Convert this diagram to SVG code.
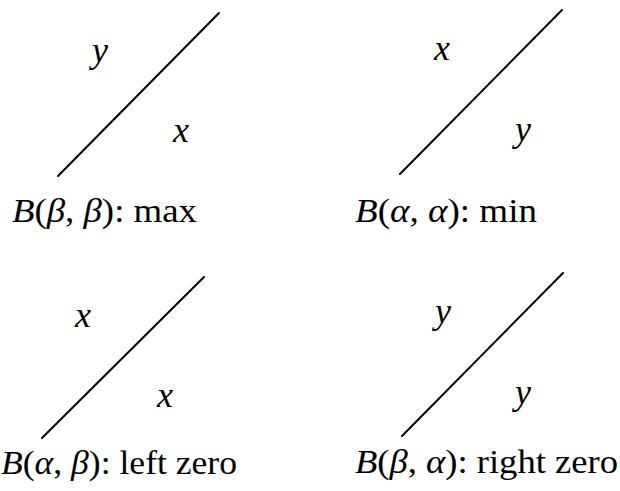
<svg xmlns="http://www.w3.org/2000/svg" width="620" height="491" viewBox="0 0 620 491">
<style>
.ln{stroke:#000;stroke-width:2;fill:none;stroke-linecap:round}
.v{font-family:"Liberation Serif","Times New Roman","DejaVu Serif",serif;font-style:italic;font-size:36px;text-anchor:middle;fill:#000}
.cap{font-family:"Liberation Serif","Times New Roman","DejaVu Serif",serif;font-size:33px;fill:#000}
.it{font-style:italic}
</style>
<rect width="620" height="491" fill="#fff"/>
<g id="connectors">
<line class="ln" x1="58" y1="176" x2="219" y2="13"/>
<line class="ln" x1="400" y1="174" x2="562" y2="10"/>
<line class="ln" x1="42" y1="438" x2="204" y2="277"/>
<line class="ln" x1="402" y1="436" x2="563" y2="273"/>
</g>
<g id="max">
<text class="v" x="100" y="62">y</text>
<text class="v" x="181" y="142">x</text>
<text class="cap" x="12" y="222" textLength="185" lengthAdjust="spacingAndGlyphs"><tspan class="it">B</tspan>(<tspan class="it">β</tspan>, <tspan class="it">β</tspan>):  max</text>
</g>
<g id="min">
<text class="v" x="442" y="60">x</text>
<text class="v" x="523" y="141">y</text>
<text class="cap" x="355" y="222" textLength="182" lengthAdjust="spacingAndGlyphs"><tspan class="it">B</tspan>(<tspan class="it">α</tspan>, <tspan class="it">α</tspan>):  min</text>
</g>
<g id="leftzero">
<text class="v" x="83" y="327">x</text>
<text class="v" x="165" y="407">x</text>
<text class="cap" x="1" y="474" textLength="236" lengthAdjust="spacingAndGlyphs"><tspan class="it">B</tspan>(<tspan class="it">α</tspan>, <tspan class="it">β</tspan>):  left zero</text>
</g>
<g id="rightzero">
<text class="v" x="443" y="323">y</text>
<text class="v" x="523" y="404">y</text>
<text class="cap" x="355" y="473" textLength="263" lengthAdjust="spacingAndGlyphs"><tspan class="it">B</tspan>(<tspan class="it">β</tspan>, <tspan class="it">α</tspan>):  right zero</text>
</g>
</svg>
